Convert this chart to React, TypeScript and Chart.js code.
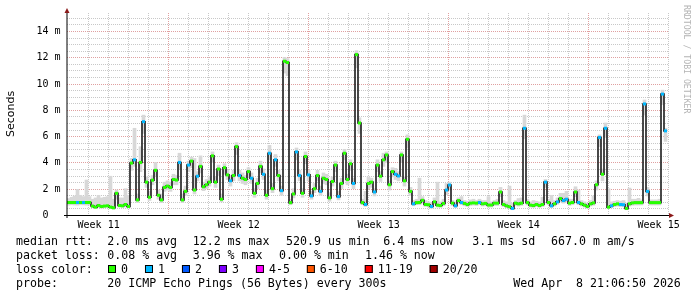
import React, { useEffect, useRef } from 'react';
import { Chart, registerables } from 'chart.js';

Chart.register(...registerables);

// ---------------- data ----------------
// consolidated samples, one every 3.6 h (0.15 day) starting at the left edge
const SAMPLE_STEP_DAYS = 0.15;

// median round-trip time per sample, in milliseconds
const MEDIAN_MS = [
  0.95, 0.95, 0.95, 0.95, 0.95, 0.95, 0.95, 0.95, 0.68, 0.6,
  0.72, 0.65, 0.68, 0.7, 0.6, 0.55, 1.65, 0.72, 0.7, 0.8,
  0.65, 3.95, 4.2, 1.15, 4.0, 7.1, 2.5, 1.35, 2.65, 3.4,
  1.5, 1.15, 2.1, 2.2, 2.1, 2.7, 2.66, 4.0, 1.15, 1.8,
  3.8, 4.1, 1.9, 2.95, 3.7, 2.15, 2.3, 2.5, 4.5, 2.5,
  3.5, 1.2, 3.6, 3.05, 2.6, 3.0, 5.2, 3.0, 2.8, 2.7,
  3.3, 2.8, 1.65, 2.4, 3.7, 3.1, 1.5, 4.7, 2.0, 4.2,
  3.0, 1.85, 11.7, 11.6, 0.94, 1.6, 4.8, 3.0, 1.65, 4.45,
  3.05, 1.45, 2.0, 3.0, 1.8, 2.8, 2.7, 1.3, 2.55, 3.8,
  1.4, 2.4, 4.7, 2.7, 3.9, 2.4, 12.2, 7.0, 0.94, 0.8,
  2.4, 2.5, 1.75, 3.8, 2.95, 4.2, 4.57, 2.3, 3.3, 3.1,
  2.97, 4.57, 2.6, 5.76, 1.8, 0.85, 0.94, 0.95, 1.12, 0.8,
  0.78, 0.65, 1.0, 0.75, 0.72, 0.88, 1.9, 2.28, 0.9, 0.7,
  1.1, 0.95, 0.88, 0.8, 0.9, 0.92, 0.9, 0.95, 0.85, 0.88,
  0.76, 0.76, 0.9, 0.9, 1.75, 0.8, 0.7, 0.63, 0.5, 0.9,
  0.85, 0.9, 6.6, 0.94, 0.75, 0.72, 0.8, 0.72, 0.8, 2.5,
  0.95, 0.7, 0.85, 1.0, 1.25, 1.1, 1.2, 0.9, 0.95, 1.75,
  0.95, 0.85, 0.75, 0.65, 0.85, 0.92, 2.3, 5.9, 3.1, 6.6,
  0.6, 0.7, 0.8, 0.85, 0.8, 0.78, 0.5, 0.85, 0.92, 0.94,
  0.94, 0.94, 8.45, 1.8, 0.94, 0.94, 0.94, 0.94, 9.2, 6.4,
];

// smoke (ping spread) bottom per sample, ms
const SMOKE_LO_MS = [
  0.75, 0.78, 0.76, 0.75, 0.78, 0.77, 0.75, 0.76, 0.55, 0.5,
  0.58, 0.52, 0.55, 0.58, 0.5, 0.45, 1.2, 0.6, 0.58, 0.62,
  0.55, 3.4, 3.7, 0.95, 3.3, 6.2, 2.1, 1.1, 2.3, 3.0,
  1.2, 0.95, 1.8, 1.9, 1.8, 2.3, 2.3, 3.5, 0.95, 1.5,
  3.3, 3.6, 1.6, 2.6, 3.2, 1.85, 2.0, 2.2, 4.0, 2.1,
  3.0, 1.0, 3.1, 2.7, 2.2, 2.6, 4.6, 2.6, 2.4, 2.3,
  2.9, 2.4, 1.35, 2.0, 3.2, 2.7, 1.2, 4.2, 1.7, 3.7,
  2.6, 1.5, 10.8, 10.6, 0.78, 1.3, 4.2, 2.6, 1.35, 3.9,
  2.6, 1.2, 1.7, 2.6, 1.5, 2.4, 2.3, 1.05, 2.2, 3.3,
  1.15, 2.0, 4.2, 2.3, 3.4, 2.0, 11.2, 6.2, 0.78, 0.65,
  2.0, 2.1, 1.45, 3.3, 2.55, 3.7, 4.0, 1.9, 2.9, 2.7,
  2.6, 4.0, 2.2, 5.1, 1.5, 0.7, 0.78, 0.78, 0.92, 0.65,
  0.62, 0.52, 0.82, 0.6, 0.58, 0.7, 1.55, 1.9, 0.72, 0.56,
  0.9, 0.78, 0.7, 0.64, 0.72, 0.75, 0.72, 0.78, 0.68, 0.7,
  0.6, 0.6, 0.72, 0.72, 1.4, 0.64, 0.55, 0.5, 0.4, 0.72,
  0.68, 0.72, 5.8, 0.76, 0.6, 0.58, 0.64, 0.58, 0.64, 2.1,
  0.78, 0.56, 0.68, 0.82, 1.0, 0.9, 0.98, 0.72, 0.78, 1.4,
  0.78, 0.68, 0.6, 0.52, 0.68, 0.74, 1.9, 5.2, 2.6, 5.9,
  0.48, 0.56, 0.64, 0.68, 0.64, 0.62, 0.4, 0.68, 0.74, 0.76,
  0.76, 0.76, 7.6, 1.45, 0.76, 0.76, 0.76, 0.76, 8.4, 5.6,
];

// smoke (ping spread) top per sample, ms
const SMOKE_HI_MS = [
  1.25, 1.35, 1.45, 1.95, 1.5, 1.4, 2.66, 1.4, 1.2, 1.3,
  1.5, 1.3, 1.35, 1.4, 2.95, 1.2, 1.9, 1.3, 1.3, 2.0,
  1.5, 4.3, 6.6, 1.6, 5.2, 7.6, 2.9, 1.8, 3.0, 4.0,
  1.9, 1.6, 2.5, 2.6, 2.5, 3.1, 3.0, 4.7, 1.6, 2.2,
  4.1, 4.4, 4.3, 3.3, 4.5, 2.5, 2.7, 2.9, 4.8, 2.9,
  3.8, 1.6, 3.9, 3.4, 3.0, 3.4, 5.5, 3.4, 3.2, 3.0,
  3.6, 3.2, 2.0, 2.8, 4.1, 3.5, 1.9, 5.3, 2.4, 4.6,
  3.4, 2.2, 12.0, 11.9, 1.2, 2.0, 5.1, 3.4, 2.0, 4.8,
  3.4, 1.8, 2.4, 3.4, 2.2, 3.2, 3.1, 1.7, 2.9, 4.1,
  1.8, 2.8, 5.0, 3.1, 4.2, 2.8, 12.5, 7.4, 1.2, 1.8,
  2.9, 2.8, 2.0, 4.2, 3.3, 4.7, 4.8, 2.6, 3.6, 3.55,
  3.3, 4.8, 2.9, 6.1, 2.1, 1.1, 1.2, 2.8, 1.4, 1.1,
  1.0, 0.95, 1.3, 2.5, 1.0, 1.2, 2.4, 2.5, 1.1, 1.0,
  1.3, 1.4, 1.1, 1.05, 1.15, 1.2, 1.1, 1.2, 1.1, 1.1,
  1.4, 1.0, 1.1, 1.2, 2.1, 1.1, 1.0, 2.2, 0.9, 1.1,
  1.25, 1.3, 7.6, 1.2, 1.0, 1.1, 1.05, 1.0, 1.35, 2.7,
  1.2, 1.5, 1.1, 1.3, 1.65, 1.65, 1.8, 1.2, 1.2, 2.15,
  1.9, 1.1, 1.0, 0.9, 1.1, 1.45, 2.6, 6.1, 3.5, 7.0,
  2.0, 1.0, 1.05, 1.1, 1.05, 1.1, 0.9, 2.05, 1.2, 1.2,
  1.27, 1.15, 8.75, 2.1, 1.15, 1.15, 1.15, 1.2, 9.5, 6.6,
];

// lost pings (out of 20) per sample
const LOST_PINGS = [
  0, 0, 0, 1, 0, 1, 0, 0, 0, 0,
  0, 0, 0, 0, 0, 0, 0, 0, 0, 0,
  0, 0, 1, 0, 0, 1, 0, 0, 0, 0,
  0, 0, 0, 0, 0, 0, 0, 1, 0, 0,
  1, 0, 0, 1, 0, 0, 0, 0, 0, 0,
  0, 0, 0, 0, 1, 0, 0, 1, 0, 0,
  0, 1, 0, 0, 0, 1, 0, 1, 0, 1,
  0, 1, 0, 0, 0, 0, 1, 1, 0, 0,
  1, 1, 0, 0, 1, 0, 0, 0, 0, 0,
  1, 0, 0, 0, 0, 1, 0, 0, 0, 1,
  0, 0, 1, 0, 0, 0, 0, 0, 0, 1,
  1, 0, 0, 0, 0, 1, 0, 0, 0, 0,
  0, 1, 0, 0, 0, 0, 1, 1, 0, 1,
  0, 1, 0, 0, 0, 0, 0, 1, 0, 0,
  0, 0, 0, 0, 0, 0, 0, 0, 1, 0,
  0, 0, 1, 0, 0, 0, 0, 0, 0, 1,
  0, 1, 0, 1, 0, 1, 1, 0, 0, 0,
  1, 0, 0, 0, 0, 0, 0, 1, 0, 1,
  0, 1, 0, 0, 1, 1, 0, 0, 0, 0,
  0, 0, 1, 1, 0, 0, 0, 0, 1, 1,
];

// axes
const X_MAX_DAYS = 30.1;
const Y_MAX_MS = 15.37;
const Y_TICKS = [0, 2, 4, 6, 8, 10, 12, 14];
const Y_TICK_LABELS = ['0  ', '2 m', '4 m', '6 m', '8 m', '10 m', '12 m', '14 m'];
const Y_MINOR_STEP = 0.5;
const DAY_GRID_FIRST = 1.05;
const DAY_GRID_COUNT = 30;
const WEEK_GRID_DAYS = [5.05, 12.05, 19.05, 26.05];
const WEEK_LABELS = ['Week 11', 'Week 12', 'Week 13', 'Week 14', 'Week 15'];
const WEEK_LABEL_DAYS = [1.58, 8.58, 15.58, 22.58, 29.58];

// legend
const LOSS_LEVELS = [0, 1, 2, 3, 5, 10, 19, 20];
const LOSS_LABELS = ['0', '1', '2', '3', '4-5', '6-10', '11-19', '20/20'];
const LOSS_COLORS = ['#26ff00', '#00b8ff', '#0059ff', '#7e00ff', '#ff00ff', '#ff5500', '#ff0000', '#a00000'];
const RTT_STATS = ['2.0 ms avg', '12.2 ms max', '520.9 us min', '6.4 ms now', '3.1 ms sd', '667.0 m am/s'];
const LOSS_STATS = ['0.08 % avg', '3.96 % max', '0.00 % min', '1.46 % now'];
const PROBE_TEXT = '20 ICMP Echo Pings (56 Bytes) every 300s';
const DATE_TEXT = 'Wed Apr  8 21:06:50 2026';
const Y_TITLE = 'Seconds';
const WATERMARK = 'RRDTOOL / TOBI OETIKER';

// ---------------- helpers / layout ----------------
const MONO = '"DejaVu Sans Mono", monospace';
const RTT_X = [107.3, 192.7, 286, 383.3, 472.3, 551];
const LOSS_X = [107.3, 192.7, 279, 365];

function lossColor(n: number): string {
  for (let k = 0; k < LOSS_LEVELS.length; k++) if (n <= LOSS_LEVELS[k]) return LOSS_COLORS[k];
  return LOSS_COLORS[LOSS_COLORS.length - 1];
}

const sampleX = (i: number) => i * SAMPLE_STEP_DAYS + SAMPLE_STEP_DAYS / 2;

const smokePlugin = {
  id: 'smokepingDecor',
  beforeDatasetsDraw(chart: any) {
    const { ctx, chartArea } = chart;
    const xs = chart.scales.x;
    const ys = chart.scales.y;
    ctx.save();
    ctx.lineWidth = 1;
    ctx.setLineDash([1, 1]);
    // horizontal grid
    const nMinor = Math.floor(Y_MAX_MS / Y_MINOR_STEP);
    for (let k = 1; k <= nMinor; k++) {
      const v = k * Y_MINOR_STEP;
      const isMajor = Y_TICKS.includes(v);
      const y = Math.round(ys.getPixelForValue(v)) + 0.5;
      ctx.strokeStyle = isMajor ? '#e0a0a0' : '#c8c8c8';
      ctx.beginPath();
      ctx.moveTo(chartArea.left, y);
      ctx.lineTo(chartArea.right, y);
      ctx.stroke();
    }
    // vertical grid
    for (let k = 0; k < DAY_GRID_COUNT; k++) {
      const d = DAY_GRID_FIRST + k;
      const isMajor = WEEK_GRID_DAYS.some((w) => Math.abs(w - d) < 1e-6);
      const x = Math.round(xs.getPixelForValue(d)) + 0.5;
      ctx.strokeStyle = isMajor ? '#e0a0a0' : '#c8c8c8';
      ctx.beginPath();
      ctx.moveTo(x, chartArea.top);
      ctx.lineTo(x, chartArea.bottom);
      ctx.stroke();
    }
    ctx.restore();
  },
  afterDatasetsDraw(chart: any) {
    const { ctx, chartArea } = chart;
    ctx.save();
    ctx.setLineDash([]);
    ctx.lineWidth = 1;
    ctx.strokeStyle = '#000';
    // x axis
    ctx.beginPath();
    ctx.moveTo(chartArea.left - 3, chartArea.bottom + 0.5);
    ctx.lineTo(chartArea.right + 1, chartArea.bottom + 0.5);
    ctx.stroke();
    // y axis
    ctx.beginPath();
    ctx.moveTo(chartArea.left, chartArea.bottom + 3);
    ctx.lineTo(chartArea.left, chartArea.top - 1);
    ctx.stroke();
    // arrows
    ctx.fillStyle = '#8b1a1a';
    ctx.beginPath();
    ctx.moveTo(chartArea.right, chartArea.bottom - 2);
    ctx.lineTo(chartArea.right + 5, chartArea.bottom + 0.5);
    ctx.lineTo(chartArea.right, chartArea.bottom + 3);
    ctx.closePath();
    ctx.fill();
    ctx.beginPath();
    ctx.moveTo(chartArea.left - 2.5, chartArea.top);
    ctx.lineTo(chartArea.left, chartArea.top - 5);
    ctx.lineTo(chartArea.left + 2.5, chartArea.top);
    ctx.closePath();
    ctx.fill();
    ctx.restore();
  },
  afterDraw(chart: any) {
    const { ctx, chartArea } = chart;
    const xs = chart.scales.x;
    const ys = chart.scales.y;
    ctx.save();
    ctx.fillStyle = '#000';
    // y tick labels
    ctx.font = `10px ${MONO}`;
    ctx.textAlign = 'right';
    ctx.textBaseline = 'middle';
    Y_TICKS.forEach((v, k) => {
      ctx.fillText(Y_TICK_LABELS[k], chartArea.left - 6.5, Math.round(ys.getPixelForValue(v)) + 0.5);
    });
    // x labels
    ctx.textAlign = 'center';
    ctx.textBaseline = 'alphabetic';
    WEEK_LABELS.forEach((lab, k) => {
      ctx.fillText(lab, xs.getPixelForValue(WEEK_LABEL_DAYS[k]), chartArea.bottom + 13);
    });
    // y title
    ctx.save();
    ctx.font = '11px "DejaVu Sans", sans-serif';
    ctx.translate(11, (chartArea.top + chartArea.bottom) / 2);
    ctx.rotate(-Math.PI / 2);
    ctx.textAlign = 'center';
    ctx.textBaseline = 'middle';
    ctx.fillText(Y_TITLE, 0, 0);
    ctx.restore();
    // watermark
    ctx.save();
    ctx.font = `8.2px ${MONO}`;
    ctx.fillStyle = '#b4b4b4';
    ctx.translate(686.5, 5);
    ctx.rotate(Math.PI / 2);
    ctx.textAlign = 'left';
    ctx.textBaseline = 'middle';
    ctx.fillText(WATERMARK, 0, 0);
    ctx.restore();
    // legend
    ctx.font = `11.6px ${MONO}`;
    ctx.textAlign = 'left';
    ctx.textBaseline = 'alphabetic';
    ctx.fillStyle = '#000';
    const base = [244.5, 258.5, 272.5, 286.5];
    ctx.fillText('median rtt:', 16, base[0]);
    RTT_STATS.forEach((s, k) => ctx.fillText(s, RTT_X[k], base[0]));
    ctx.fillText('packet loss:', 16, base[1]);
    LOSS_STATS.forEach((s, k) => ctx.fillText(s, LOSS_X[k], base[1]));
    ctx.fillText('loss color:', 16, base[2]);
    let bx = 108;
    LOSS_LABELS.forEach((lab, k) => {
      ctx.fillStyle = LOSS_COLORS[k];
      ctx.fillRect(bx, 265, 8, 8);
      ctx.strokeStyle = '#000';
      ctx.lineWidth = 1;
      ctx.strokeRect(bx + 0.5, 265.5, 7, 7);
      ctx.fillStyle = '#000';
      const tx = bx + 13;
      ctx.fillText(lab, tx, base[2]);
      bx = tx + ctx.measureText(lab).width + 17;
    });
    ctx.fillText('probe:', 16, base[3]);
    ctx.fillText(PROBE_TEXT, 107.3, base[3]);
    ctx.fillText(DATE_TEXT, 513.3, base[3]);
    ctx.restore();
  },
};

export default function App() {
  const ref = useRef<HTMLCanvasElement>(null);
  useEffect(() => {
    const canvas = ref.current;
    if (!canvas) return;
    const points = MEDIAN_MS.map((v, i) => ({ x: sampleX(i), y: v }));
    const chart = new Chart(canvas, {
      type: 'line',
      data: {
        datasets: [
          {
            type: 'bar',
            label: 'smoke',
            data: SMOKE_LO_MS.map((lo, i) => ({ x: sampleX(i), y: [lo, SMOKE_HI_MS[i]] })) as any,
            backgroundColor: '#d8d8d8',
            borderWidth: 0,
            barPercentage: 1,
            categoryPercentage: 1,
            order: 3,
          } as any,
          {
            type: 'line',
            label: 'median',
            data: points,
            stepped: 'middle',
            borderColor: '#1c1c1c',
            borderWidth: 1.6,
            pointRadius: 0,
            order: 2,
          },
          {
            type: 'line',
            label: 'loss',
            data: points,
            showLine: false,
            pointStyle: 'line',
            pointRadius: 1.5,
            pointBorderWidth: 3,
            pointBorderColor: LOST_PINGS.map(lossColor),
            pointBackgroundColor: LOST_PINGS.map(lossColor),
            order: 1,
          },
        ],
      },
      options: {
        animation: false,
        responsive: false,
        devicePixelRatio: 1,
        events: [],
        layout: { padding: { left: 67, right: 28, top: 13, bottom: 82 } },
        scales: {
          x: { type: 'linear', display: false, min: 0, max: X_MAX_DAYS, offset: false },
          y: { type: 'linear', display: false, min: 0, max: Y_MAX_MS },
        },
        plugins: { legend: { display: false }, tooltip: { enabled: false } },
      },
      plugins: [smokePlugin],
    } as any);
    return () => chart.destroy();
  }, []);
  return (
    <div style={{ position: 'absolute', left: 0, top: 0, width: 697, height: 297, background: '#fff' }}>
      <canvas ref={ref} width={697} height={297} style={{ width: 697, height: 297, display: 'block' }} />
    </div>
  );
}
